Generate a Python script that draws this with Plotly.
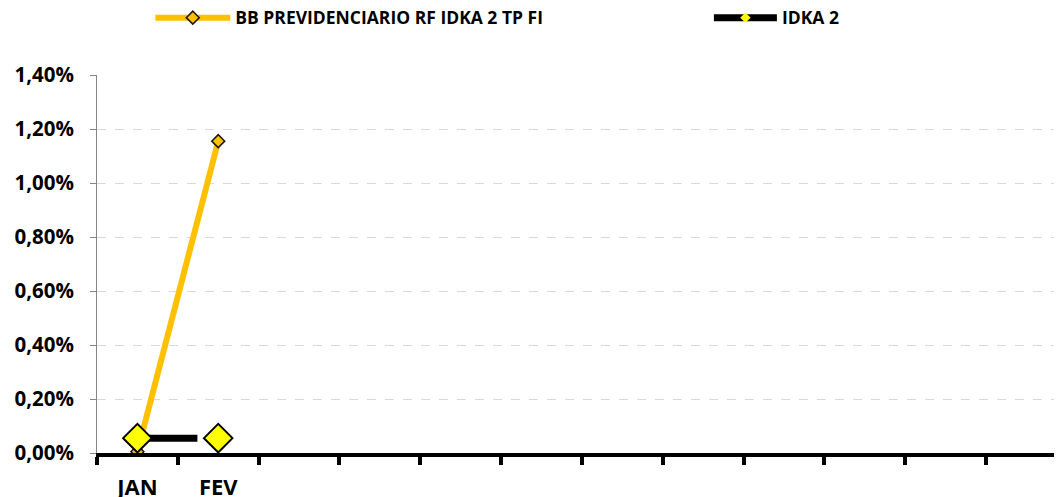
import plotly.graph_objects as go

months = ["JAN", "FEV", "MAR", "ABR", "MAI", "JUN", "JUL", "AGO", "SET", "OUT", "NOV", "DEZ"]
month_labels = ["JAN", "FEV", "", "", "", "", "", "", "", "", "", ""]

fund_name = "BB PREVIDENCIARIO RF IDKA 2 TP FI"
fund_returns = [0.00005, 0.01155]   # retorno mensal
bench_name = "IDKA 2"
bench_returns = [0.00055, 0.00055]

y_ticks = [0, 0.002, 0.004, 0.006, 0.008, 0.010, 0.012, 0.014]

FONT = "Open Sans"
ORANGE = "#FFC000"
YELLOW = "#FFFF00"

fig = go.Figure()

fig.add_trace(go.Scatter(
    x=months[:len(fund_returns)], y=fund_returns, name=fund_name,
    mode="lines+markers", legend="legend",
    line=dict(color=ORANGE, width=6),
    marker=dict(symbol="diamond", size=10, color=ORANGE,
                line=dict(color="#1a1a1a", width=1.5)),
))

# benchmark line (Excel draws it short of the second point)
fig.add_trace(go.Scatter(
    x=months[:len(bench_returns)], y=bench_returns, name=bench_name,
    mode="lines", showlegend=False,
    line=dict(color="black", width=7, dash="60px,400px"),
))
fig.add_trace(go.Scatter(
    x=months[:len(bench_returns)], y=bench_returns, name=bench_name,
    mode="markers", showlegend=False,
    marker=dict(symbol="diamond", size=22, color=YELLOW,
                line=dict(color="black", width=2)),
))
# legend entry for the benchmark
fig.add_trace(go.Scatter(
    x=[None], y=[None], name=bench_name, mode="lines+markers", legend="legend2",
    line=dict(color="black", width=7),
    marker=dict(symbol="diamond", size=8, color=YELLOW,
                line=dict(color=YELLOW, width=0)),
))

legend_font = dict(family=FONT, size=17.5, weight="bold")

# page body has an 8px margin, so the figure is a bit smaller than the window
fig.update_layout(
    width=1054, height=489,
    margin=dict(l=89, r=0, t=67, b=44),
    paper_bgcolor="white", plot_bgcolor="white",
    font=dict(family=FONT, color="black"),
    separators=",.",
    showlegend=True,
    legend=dict(
        orientation="h", xref="container", yref="container",
        x=0.135, y=0.98, xanchor="left", yanchor="middle",
        itemwidth=75, font=legend_font, bgcolor="rgba(0,0,0,0)",
    ),
    legend2=dict(
        orientation="h", xref="container", yref="container",
        x=0.665, y=0.98, xanchor="left", yanchor="middle",
        itemwidth=63, font=legend_font, bgcolor="rgba(0,0,0,0)",
    ),
)

fig.update_xaxes(
    type="category", categoryorder="array", categoryarray=months,
    tickvals=months, ticktext=month_labels,
    range=[-0.5, 11.44], automargin=False,
    showline=True, linecolor="black", linewidth=4,
    ticks="outside", tickson="boundaries", ticklen=8, tickwidth=4, tickcolor="black",
    showgrid=False, zeroline=False, ticklabelstandoff=12,
    tickfont=dict(family=FONT, size=22, weight="bold"),
)

fig.update_yaxes(
    range=[0, 0.014], tickvals=y_ticks, tickformat=".2%", automargin=False,
    showline=True, linecolor="#868686", linewidth=1,
    ticks="outside", ticklen=6, tickwidth=1, tickcolor="#868686",
    showgrid=True, gridcolor="#D9D9D9", gridwidth=1, griddash="dash",
    zeroline=False, ticklabelstandoff=12,
    tickfont=dict(family=FONT, size=20.5, weight="bold"),
)

fig.write_html("out.html")
